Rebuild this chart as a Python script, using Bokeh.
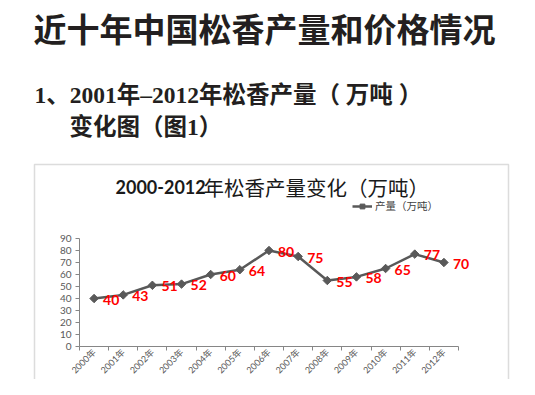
from math import pi
from bokeh.plotting import figure
from bokeh.models import (Range1d, FixedTicker, Label, BoxAnnotation, Legend, LegendItem,
                          ColumnDataSource)
from bokeh.core.properties import value
from bokeh.embed import file_html
from bokeh.resources import INLINE

# ---- data ----
years = ["2000年", "2001年", "2002年", "2003年", "2004年", "2005年", "2006年",
         "2007年", "2008年", "2009年", "2010年", "2011年", "2012年"]
output = [40, 43, 51, 52, 60, 64, 80, 75, 55, 58, 65, 77, 70]
y_ticks = [0, 10, 20, 30, 40, 50, 60, 70, 80, 90]

page_title = "近十年中国松香产量和价格情况"
sub_line1 = "1、2001年–2012年松香产量（ 万吨 ）"
sub_line2 = "变化图（图1）"
chart_title_a = "2000-2012"
chart_title_b = "年松香产量变化（万吨）"
series_name = "产量（万吨）"

# ---- layout (pixels on the canvas) ----
W, H = 519, 379
AX_L, AX_R = 79, 458      # x pixel of the left / right end of the category axis
AX_B, AX_T = 346, 238     # y pixel of value 0 / value 90

n = len(years)
y_top = y_ticks[-1]
ppx = (AX_R - AX_L) / n
ppy = (AX_B - AX_T) / y_top
x0 = -0.5 - AX_L / ppx
x1 = n - 0.5 + (W - AX_R) / ppx
y0 = -(H - AX_B) / ppy
y1 = y_top + AX_T / ppy

idx = list(range(n))
src = ColumnDataSource(dict(x=idx, y=output, t=[str(v) for v in output]))

p = figure(width=W, height=H, output_backend="svg", toolbar_location=None,
           x_range=Range1d(x0, x1), y_range=Range1d(y0, y1),
           min_border=0, min_border_left=0, min_border_right=0,
           min_border_top=0, min_border_bottom=0)
p.outline_line_color = None
p.grid.visible = False
p.background_fill_color = "white"
p.border_fill_color = "white"

AX = "#868686"
TL = "#595959"

# y axis
ya = p.yaxis[0]
ya.fixed_location = -0.5
ya.bounds = (0, y_top)
ya.ticker = FixedTicker(ticks=y_ticks, minor_ticks=[])
ya.axis_line_color = AX
ya.major_tick_line_color = AX
ya.major_tick_out = 4
ya.major_tick_in = 0
ya.minor_tick_line_color = None
ya.major_label_text_font = "Lato"
ya.major_label_text_font_size = "10px"
ya.major_label_text_color = TL
ya.major_label_standoff = 4

# x axis
xa = p.xaxis[0]
xa.fixed_location = 0
xa.bounds = (-0.5, n - 0.5)
xa.ticker = FixedTicker(ticks=idx, minor_ticks=[i - 0.5 for i in range(n + 1)])
xa.major_label_overrides = {i: years[i] for i in idx}
xa.axis_line_color = AX
xa.major_tick_line_color = None
xa.major_tick_out = 0
xa.major_tick_in = 0
xa.minor_tick_line_color = AX
xa.minor_tick_out = 4
xa.minor_tick_in = 0
xa.major_label_orientation = pi / 4
xa.major_label_text_font = "Lato, Noto Sans CJK SC"
xa.major_label_text_font_size = "9px"
xa.major_label_text_color = TL
xa.major_label_standoff = 0

# series
lr = p.line("x", "y", source=src, line_color="#595959", line_width=2.5)
sr = p.scatter("x", "y", source=src, marker="square", angle=pi / 4, size=6,
               fill_color="#595959", line_color="#595959")
p.text("x", "y", text="t", source=src, x_offset=9, y_offset=1, text_align="left",
       text_baseline="middle", text_color="#ff0000", text_font=value("Lato"),
       text_font_style="bold", text_font_size="14px")

legend = Legend(items=[LegendItem(label=value(series_name), renderers=[lr, sr])],
                location=(352, H - 213), orientation="horizontal",
                border_line_color=None, background_fill_alpha=0, padding=0, margin=0,
                spacing=0, glyph_width=20, glyph_height=12, label_height=12,
                label_standoff=3, label_text_font="Noto Sans CJK SC",
                label_text_font_size="10.5px", label_text_color="#404040")
p.add_layout(legend)

# chart box
p.add_layout(BoxAnnotation(left=34, right=508, top=H - 164, bottom=-20,
                           left_units="screen", right_units="screen",
                           top_units="screen", bottom_units="screen",
                           fill_alpha=0, line_color="#8c8c8c", line_width=1.5))

# texts
def lab(x, y, text, font, size, style="normal", color="#231f20", baseline="middle"):
    p.add_layout(Label(x=x, y=H - y, x_units="screen", y_units="screen", text=text,
                       text_font=font, text_font_size=size, text_font_style=style,
                       text_color=color, text_baseline=baseline, text_align="left"))

lab(33, 27, page_title, "Noto Sans CJK SC", "33px", "bold")
lab(34, 94.5, sub_line1, "Liberation Serif, Noto Sans CJK SC", "23.5px", "bold")
lab(69, 126, sub_line2, "Liberation Serif, Noto Sans CJK SC", "23.5px", "bold")
lab(115, 186, chart_title_a, "Lato", "18px", "bold", "#1a1a1a", "alphabetic")
lab(203, 186, chart_title_b, "Noto Sans CJK SC", "20.5px", "normal", "#1a1a1a", "alphabetic")

open("out.html", "w").write(file_html(p, INLINE))
